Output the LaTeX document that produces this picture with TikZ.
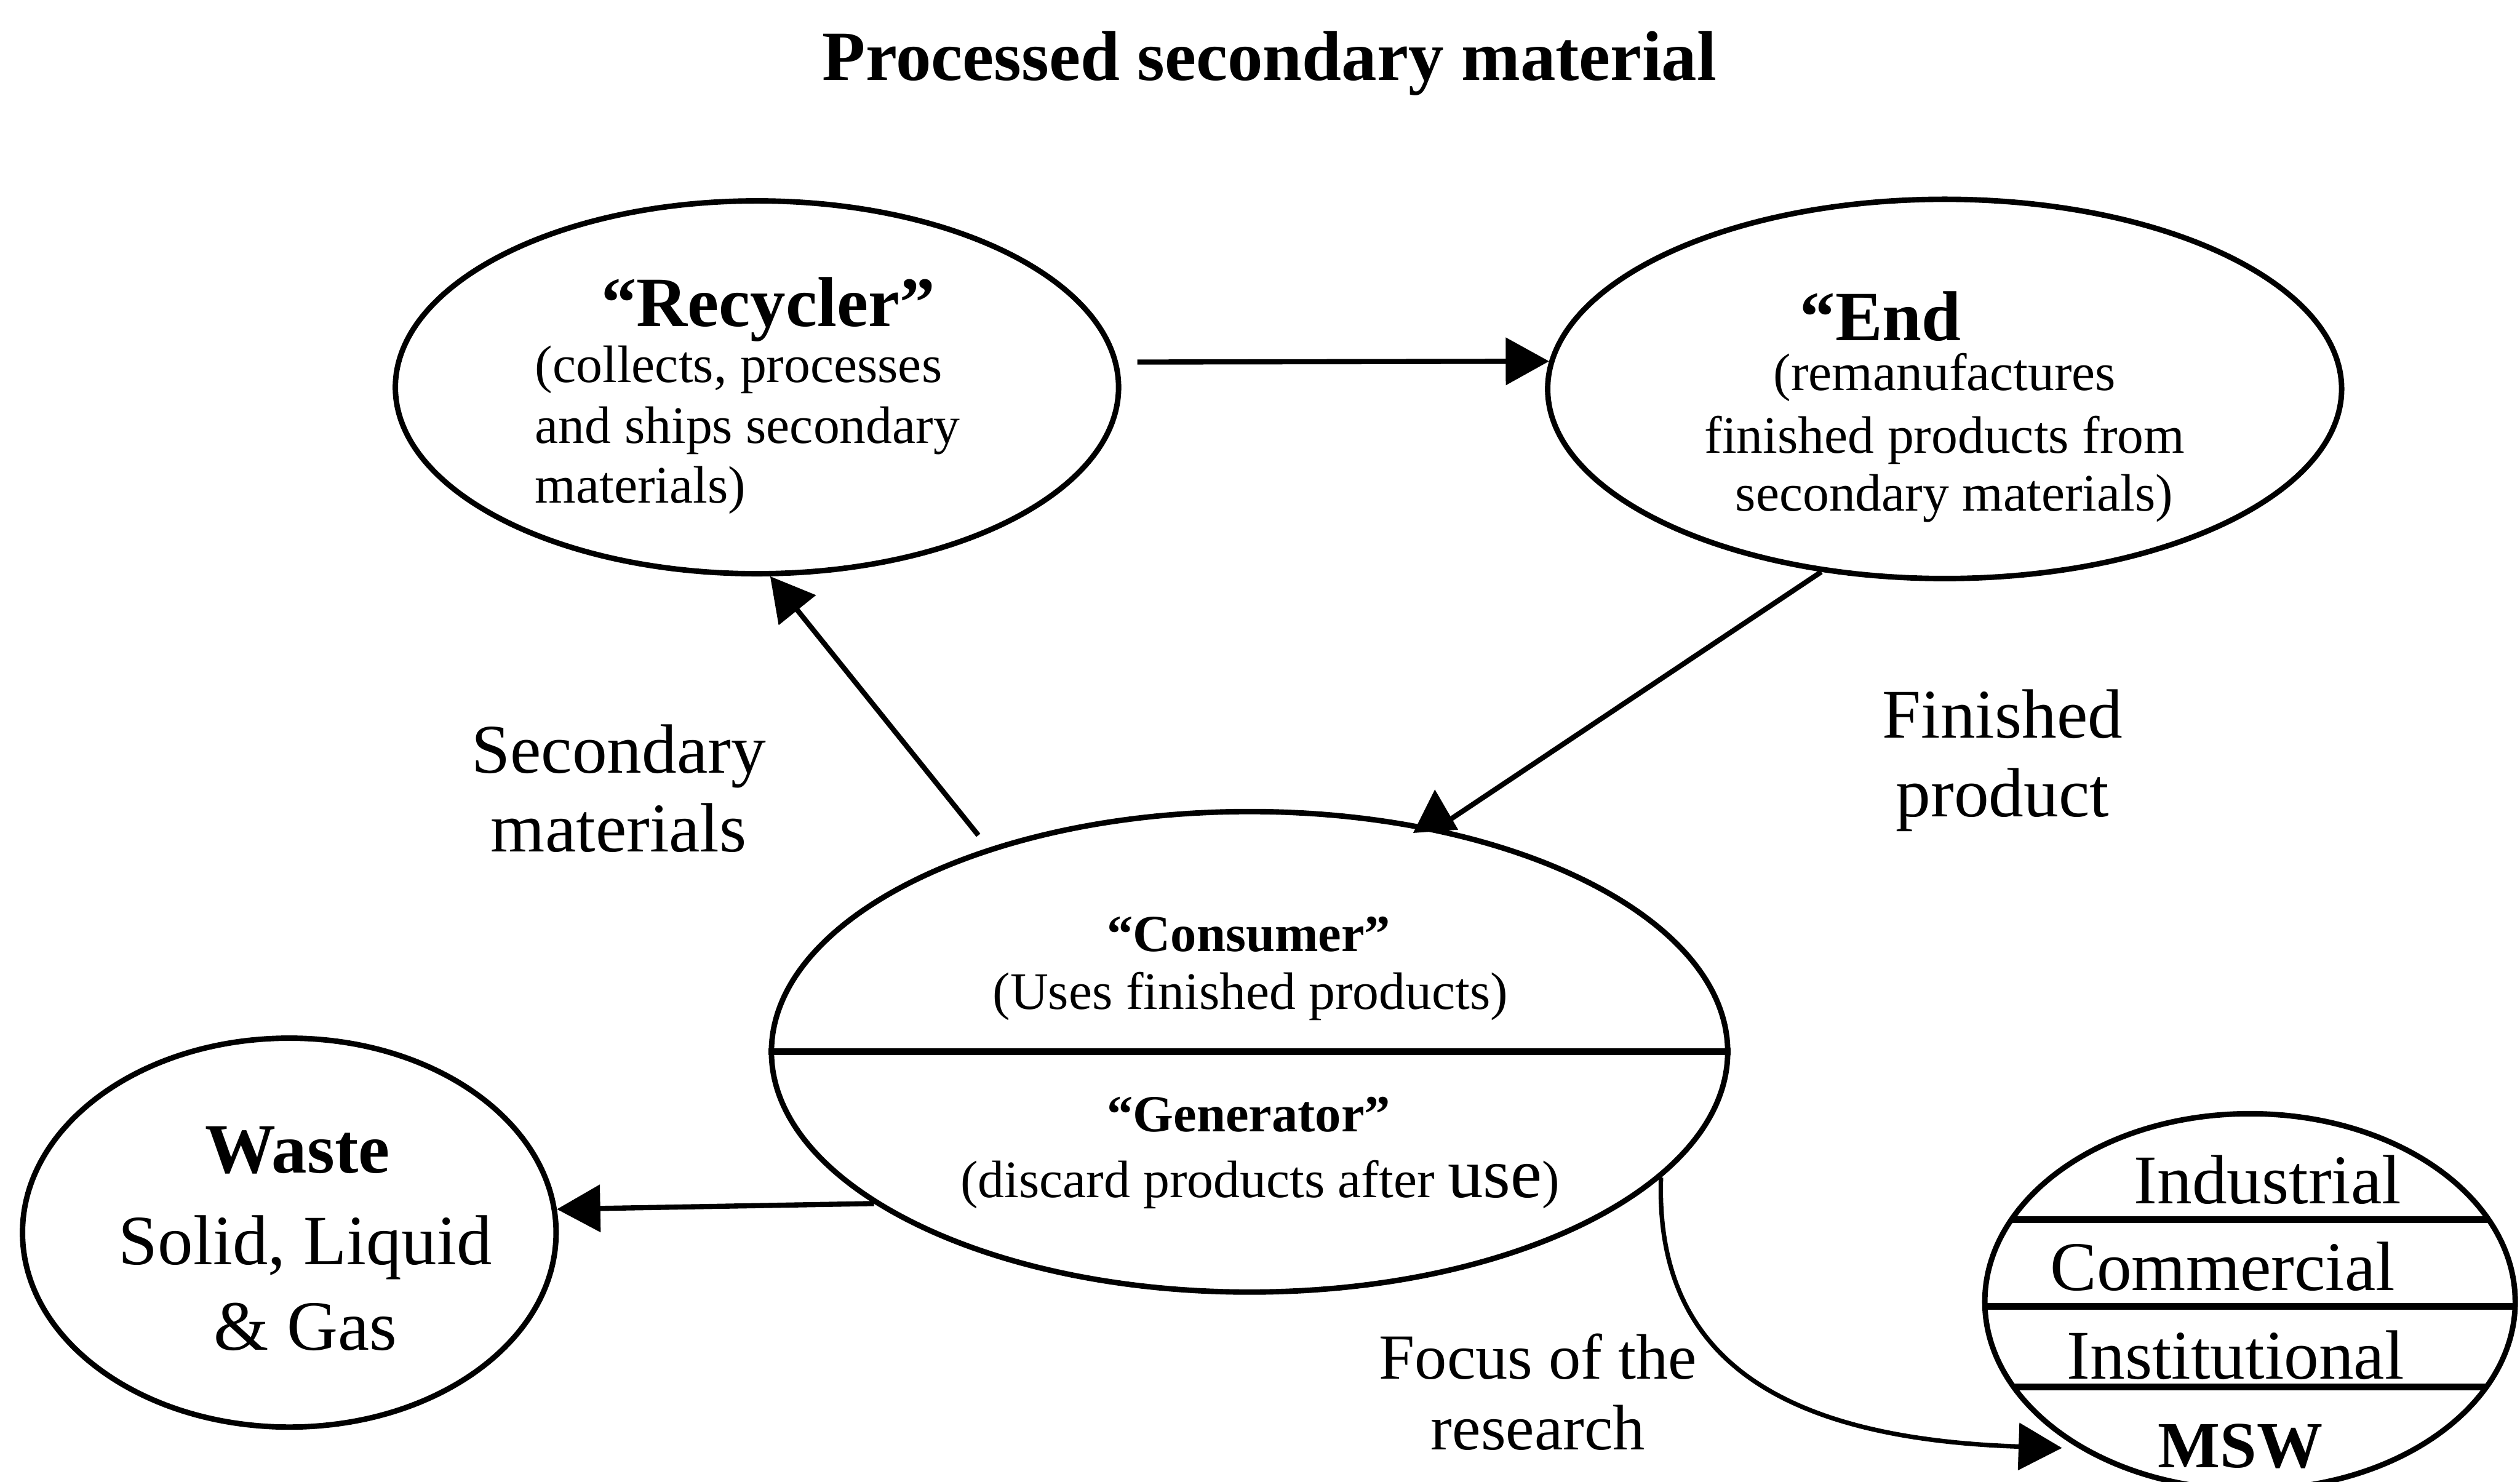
\documentclass[tikz,border=0pt]{standalone}
\usepackage{fontspec}
\setmainfont{Liberation Serif}
\usetikzlibrary{shapes.geometric,arrows.meta,calc}

\tikzset{
  party/.style={draw, ellipse, line width=1.7pt, inner sep=0pt},
  arr/.style={line width=1.6pt, -{Triangle[length=13.5pt,width=14.5pt]}},
  divider/.style={line width=2.1pt},
  txt/.style={inner sep=0pt, outer sep=0pt, anchor=base},
  big/.style={txt, font=\fontsize{21.7}{26}\selectfont},
  bigbold/.style={txt, font=\fontsize{22}{26}\selectfont\bfseries},
  small/.style={txt, font=\fontsize{16.4}{19}\selectfont},
  smallbold/.style={txt, font=\fontsize{16.2}{19}\selectfont\bfseries},
}

\begin{document}
\begin{tikzpicture}[x=0.5pt, y=-0.5pt]
\clip (0,0) rectangle (1568,922);
\fill[white] (0,0) rectangle (1568,922);

% title
\node[bigbold] (title) at (790,50) {Processed secondary material};

% the four parties
\node[party, minimum width=225pt, minimum height=116pt] (rec) at (471,241) {};
\node[party, minimum width=247pt, minimum height=118pt] (end) at (1210,242) {};
\node[party, minimum width=297.5pt, minimum height=149.5pt] (cons) at (777.5,654.5) {};
\node[party, minimum width=166pt, minimum height=121pt] (waste) at (180,767) {};
\node[party, minimum width=165pt, minimum height=117pt] (sec) at (1400,810) {};

% recycler text
\node[bigbold] (recName) at (478,203) {“Recycler”};
\node[small, anchor=base west] (recL1) at (333,238) {(collects, processes};
\node[small, anchor=base west] (recL2) at (333,276) {and ships secondary};
\node[small, anchor=base west] (recL3) at (333,313) {materials)};

% end-user text
\node[bigbold, anchor=base west] (endName) at (1120,212) {“End};
\node[small] (endL1) at (1210,243) {(remanufactures};
\node[small] (endL2) at (1210,282) {finished products from};
\node[small] (endL3) at (1216,318) {secondary materials)};

% consumer / generator
\draw[divider] (cons.west) -- (cons.east);
\node[smallbold] (consName) at (777,592) {“Consumer”};
\node[small] (consL1) at (778,628) {(Uses finished products)};
\node[smallbold] (genName) at (777,704) {“Generator”};
\node[small] (genL1) at (784,745) {(discard products after {\fontsize{22}{26}\selectfont use})};

% waste
\node[bigbold] (wasteName) at (185,730) {Waste};
\node[txt, font=\fontsize{22}{26}\selectfont] (wasteL1) at (190,787) {Solid, Liquid};
\node[txt, font=\fontsize{22}{26}\selectfont] (wasteL2) at (190,840) {\& Gas};

% sectors
\draw[divider] ($(sec.center)+(-148.5,-51)$) -- ($(sec.center)+(148.5,-51)$);
\draw[divider] ($(sec.center)+(-164.9,3)$) -- ($(sec.center)+(164.9,3)$);
\draw[divider] ($(sec.center)+(-147.1,53)$) -- ($(sec.center)+(147.1,53)$);
\node[big] (ind) at (1411,749) {Industrial};
\node[big] (com) at (1383,803) {Commercial};
\node[big] (ins) at (1391,858) {Institutional};
\node[txt, font=\fontsize{20.5}{24}\selectfont\bfseries] (msw) at (1394,913) {MSW};

% flow labels
\node[big] (secLbl1) at (385,481) {Secondary};
\node[big] (secLbl2) at (385,530) {materials};
\node[big] (finLbl1) at (1246,459) {Finished};
\node[big] (finLbl2) at (1246,508) {product};
\node[txt, font=\fontsize{20}{24}\selectfont] (focLbl1) at (957,858) {Focus of the};
\node[txt, font=\fontsize{20}{24}\selectfont] (focLbl2) at (957,902) {research};

% flows
\draw[arr] ([xshift=6pt]rec.4) -- (end.176);
\draw[arr, shorten <=5pt] (cons.142.3) -- (rec.-86);
\draw[line width=1.6pt] (end.-124.7) -- (cons.50.2);
\fill ($(cons.50.2)+(-1.5,-24)$) -- ($(cons.50.2)+(-15,3)$) -- ($(cons.50.2)+(13,1)$) -- cycle;
\draw[arr] (cons.202.3) -- (waste.5.2);
\coordinate (mswIn) at (1283,901);
\draw[arr, line width=1.4pt] (cons.-17.7) .. controls (1030,840) and (1100,895) .. (mswIn);
\end{tikzpicture}
\end{document}
